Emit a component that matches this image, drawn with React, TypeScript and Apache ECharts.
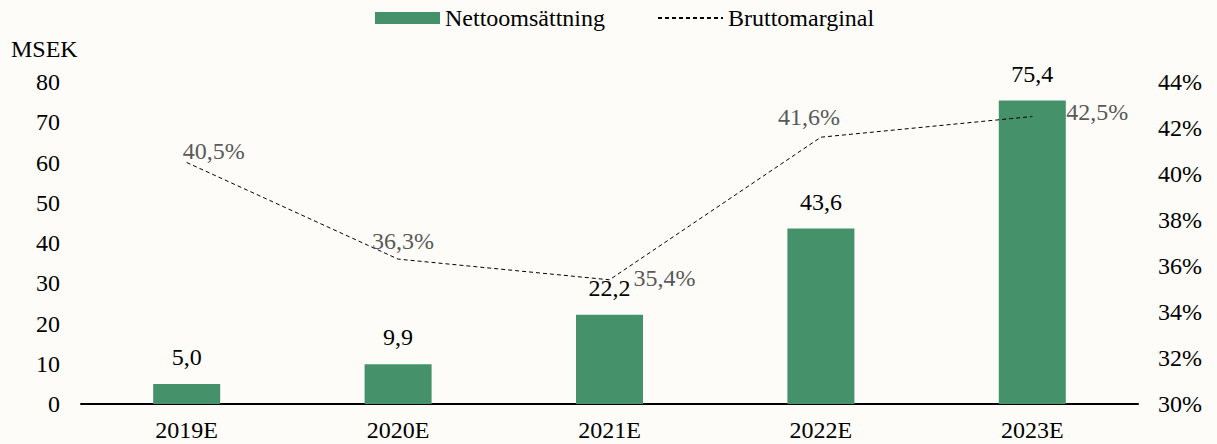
import React, { useEffect, useRef } from "react";
import * as echarts from "echarts";

const categories = ["2019E", "2020E", "2021E", "2022E", "2023E"];
const nettoomsattning = [5.0, 9.9, 22.2, 43.6, 75.4];
const bruttomarginal = [40.5, 36.3, 35.4, 41.6, 42.5];
const marginLabelOffsets: [number, number][] = [
  [27, -12],
  [5, -18],
  [55, -2],
  [-12, -20],
  [65, -5],
];

const FONT = "Liberation Serif";
const FS = 24;
const fmt = (v: number, d = 1) => v.toFixed(d).replace(".", ",");

export default function App() {
  const ref = useRef<HTMLDivElement>(null);
  useEffect(() => {
    const chart = echarts.init(ref.current!, null, { renderer: "svg" });
    chart.setOption({
      animation: false,
      backgroundColor: "#fdfcf8",
      textStyle: { fontFamily: FONT },
      legend: {
        left: 370,
        top: 1,
        itemWidth: 65,
        itemHeight: 12,
        itemGap: 52,
        textStyle: { fontFamily: FONT, fontSize: FS, color: "#000" },
        data: [
          { name: "Nettoomsättning", icon: "rect" },
          { name: "Bruttomarginal" },
        ],
      },
      graphic: [
        {
          type: "text",
          left: 11,
          top: 37,
          style: { text: "MSEK", fontFamily: FONT, fontSize: FS, fill: "#000" },
        },
      ],
      grid: { left: 81, right: 79, top: 82, bottom: 40 },
      xAxis: {
        type: "category",
        data: categories,
        axisLine: { lineStyle: { color: "#000", width: 2 } },
        axisTick: { show: false },
        axisLabel: { color: "#000", fontSize: FS, fontFamily: FONT, margin: 14 },
      },
      yAxis: [
        {
          type: "value",
          min: 0,
          max: 80,
          interval: 10,
          splitLine: { show: false },
          axisLine: { show: false },
          axisTick: { show: false },
          axisLabel: { color: "#000", fontSize: FS, fontFamily: FONT, margin: 21 },
        },
        {
          type: "value",
          min: 30,
          max: 44,
          interval: 2,
          position: "right",
          splitLine: { show: false },
          axisLine: { show: false },
          axisTick: { show: false },
          axisLabel: {
            color: "#000",
            fontSize: FS,
            fontFamily: FONT,
            margin: 20,
            formatter: "{value}%",
          },
        },
      ],
      series: [
        {
          name: "Nettoomsättning",
          type: "bar",
          data: nettoomsattning,
          barWidth: "31.7%",
          itemStyle: { color: "#45916a" },
          label: {
            show: true,
            position: "top",
            distance: 15,
            color: "#000",
            fontSize: FS,
            fontFamily: FONT,
            formatter: (p: any) => fmt(p.value),
          },
        },
        {
          name: "Bruttomarginal",
          type: "line",
          yAxisIndex: 1,
          data: bruttomarginal.map((v, i) => ({
            value: v,
            label: { offset: marginLabelOffsets[i] },
          })),
          symbol: "circle",
          symbolSize: 1,
          itemStyle: { color: "rgba(0,0,0,0)" },
          lineStyle: { color: "#000", width: 1, type: [4, 3] },
          label: {
            show: true,
            position: "inside",
            color: "#595959",
            fontSize: FS,
            fontFamily: FONT,
            formatter: (p: any) => fmt(p.value) + "%",
          },
          z: 5,
        },
      ],
    });
    return () => chart.dispose();
  }, []);
  return (
    <div
      ref={ref}
      style={{ position: "fixed", left: 0, top: 0, width: 1217, height: 444 }}
    />
  );
}
